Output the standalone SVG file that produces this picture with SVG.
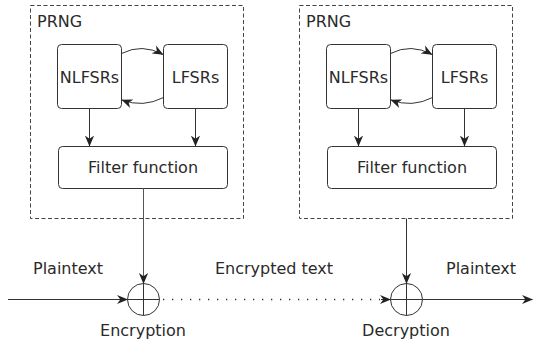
<svg xmlns="http://www.w3.org/2000/svg" width="533" height="346" viewBox="0 0 533 346">
  <defs>
    <marker id="arrow" viewBox="0 0 10 10" refX="9.5" refY="5" markerWidth="11" markerHeight="11" markerUnits="userSpaceOnUse" orient="auto">
      <path d="M0,0.8 L10,5 L0,9.2 L3,5 Z" fill="#222"/>
    </marker>
    <style>
      text { font-family: "DejaVu Sans", "Liberation Sans", sans-serif; font-size: 16px; fill: #2a2a2a; }
      .box { fill: #fff; stroke: #333; stroke-width: 1; }
      .frame { fill: none; stroke: #444; stroke-width: 1; stroke-dasharray: 4 2.5; }
      .line { fill: none; stroke: #333; stroke-width: 1; }
      .arr { fill: none; stroke: #333; stroke-width: 1; marker-end: url(#arrow); }
      .dots { fill: none; stroke: #333; stroke-width: 1.3; stroke-dasharray: 1.3 7.7; }
      .mid { text-anchor: middle; }
    </style>
  </defs>

  <!-- Encryption-side generator -->
  <g id="prng-enc">
    <rect class="frame" x="30.5" y="5.5" width="213" height="213"/>
    <text x="37" y="27">PRNG</text>
  </g>
  <g id="nlfsr-enc">
    <rect class="box" x="57.5" y="44.5" width="64" height="64" rx="4"/>
    <text class="mid" x="89.5" y="83">NLFSRs</text>
  </g>
  <g id="lfsr-enc">
    <rect class="box" x="163.5" y="44.5" width="64" height="64" rx="4"/>
    <text class="mid" x="195.5" y="83">LFSRs</text>
  </g>
  <g id="filter-enc">
    <rect class="box" x="58.5" y="146.5" width="169" height="42" rx="4"/>
    <text class="mid" x="143" y="173">Filter function</text>
  </g>

  <!-- Decryption-side generator -->
  <g id="prng-dec">
    <rect class="frame" x="299.5" y="5.5" width="213" height="213"/>
    <text x="306" y="27">PRNG</text>
  </g>
  <g id="nlfsr-dec">
    <rect class="box" x="326.5" y="44.5" width="64" height="64" rx="4"/>
    <text class="mid" x="358.5" y="83">NLFSRs</text>
  </g>
  <g id="lfsr-dec">
    <rect class="box" x="432.5" y="44.5" width="64" height="64" rx="4"/>
    <text class="mid" x="464.5" y="83">LFSRs</text>
  </g>
  <g id="filter-dec">
    <rect class="box" x="327.5" y="146.5" width="169" height="42" rx="4"/>
    <text class="mid" x="412" y="173">Filter function</text>
  </g>

  <!-- XOR combiners -->
  <g id="xor-enc">
    <circle class="line" cx="143.5" cy="299.5" r="16"/>
    <line class="line" x1="143.5" y1="283.5" x2="143.5" y2="315.5"/>
    <line class="line" x1="127.5" y1="299.5" x2="159.5" y2="299.5"/>
    <text class="mid" x="143" y="336">Encryption</text>
  </g>
  <g id="xor-dec">
    <circle class="line" cx="406.5" cy="299.5" r="16"/>
    <line class="line" x1="406.5" y1="283.5" x2="406.5" y2="315.5"/>
    <line class="line" x1="390.5" y1="299.5" x2="422.5" y2="299.5"/>
    <text class="mid" x="406" y="336">Decryption</text>
  </g>

  <!-- Connectors -->
  <g id="connectors">
    <!-- shift-register feedback, encryption side -->
    <path class="arr" d="M121.5,53.5 Q142,43 163,54.5"/>
    <path class="arr" d="M163.5,97.5 Q143,108 122,100"/>
    <line class="arr" x1="89.5" y1="108.5" x2="89.5" y2="146"/>
    <line class="arr" x1="195.5" y1="108.5" x2="195.5" y2="146"/>
    <!-- shift-register feedback, decryption side -->
    <path class="arr" d="M390.5,53.5 Q411,43 432,54.5"/>
    <path class="arr" d="M432.5,97.5 Q412,108 391,100"/>
    <line class="arr" x1="358.5" y1="108.5" x2="358.5" y2="146"/>
    <line class="arr" x1="464.5" y1="108.5" x2="464.5" y2="146"/>
    <!-- keystreams into the combiners -->
    <line class="arr" x1="143.5" y1="188.5" x2="143.5" y2="283.5" style="stroke:#555"/>
    <line class="arr" x1="406.5" y1="218.5" x2="406.5" y2="283.5"/>
    <!-- data path -->
    <line class="arr" x1="8" y1="299.5" x2="127.5" y2="299.5"/>
    <line class="dots" x1="163" y1="299.5" x2="380" y2="299.5"/>
    <line class="arr" x1="381" y1="299.5" x2="390.5" y2="299.5"/>
    <line class="arr" x1="422.5" y1="299.5" x2="532.5" y2="299.5"/>
  </g>

  <!-- Data labels -->
  <g id="labels">
    <text x="33" y="274">Plaintext</text>
    <text class="mid" x="274" y="274">Encrypted text</text>
    <text x="446" y="274">Plaintext</text>
  </g>
</svg>
